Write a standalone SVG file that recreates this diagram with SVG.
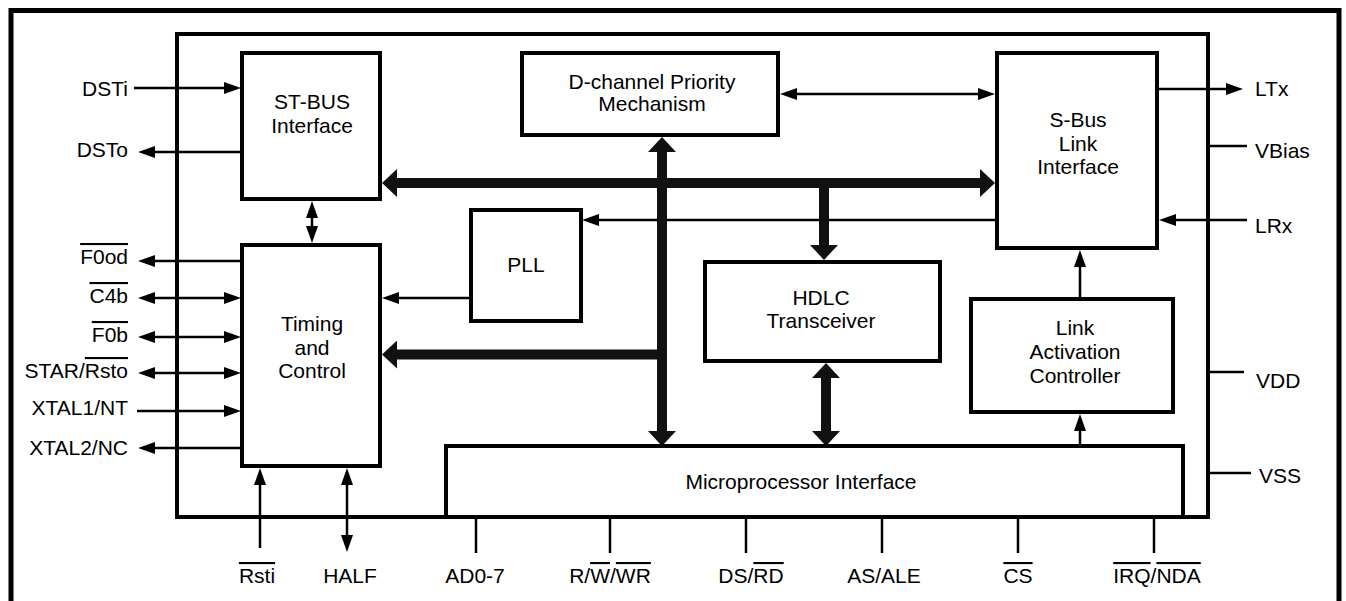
<svg xmlns="http://www.w3.org/2000/svg" width="1346" height="601" viewBox="0 0 1346 601">
<style>
text{font-family:"Liberation Sans",Arial,sans-serif;font-size:21px;fill:#000}
.c{text-anchor:middle}
.e{text-anchor:end}
.box{fill:#fff;stroke:#000;stroke-width:4}
.t{stroke:#000;stroke-width:2.5;fill:none}
.k{stroke:#111;stroke-width:10;fill:none}
.ol{text-decoration:overline}
</style>
<defs>
<marker id="a" markerUnits="userSpaceOnUse" markerWidth="17" markerHeight="12" refX="9" refY="6" orient="auto-start-reverse"><path d="M0,0 L17,6 L0,12 z" fill="#000"/></marker>
<marker id="A" markerUnits="userSpaceOnUse" markerWidth="15" markerHeight="28" refX="3" refY="14" orient="auto-start-reverse"><path d="M0,0 L15,14 L0,28 z" fill="#111"/></marker>
</defs>
<rect width="1346" height="601" fill="#fff"/>
<path d="M11,601 V10.5 H1339 V601" fill="none" stroke="#000" stroke-width="5"/>
<rect id="chip" x="177" y="34" width="1031" height="483" fill="none" stroke="#000" stroke-width="4"/>

<g id="connectors">
<line class="t" x1="134" y1="88" x2="233" y2="88" marker-end="url(#a)"/>
<line class="t" x1="241" y1="152" x2="146" y2="152" marker-end="url(#a)"/>
<line class="t" x1="241" y1="261" x2="146" y2="261" marker-end="url(#a)"/>
<line class="t" x1="146" y1="298" x2="233" y2="298" marker-start="url(#a)" marker-end="url(#a)"/>
<line class="t" x1="146" y1="337" x2="233" y2="337" marker-start="url(#a)" marker-end="url(#a)"/>
<line class="t" x1="146" y1="373" x2="233" y2="373" marker-start="url(#a)" marker-end="url(#a)"/>
<line class="t" x1="137" y1="411" x2="233" y2="411" marker-end="url(#a)"/>
<line class="t" x1="241" y1="448" x2="146" y2="448" marker-end="url(#a)"/>
<line class="t" x1="260" y1="548" x2="260" y2="476" marker-end="url(#a)"/>
<line class="t" x1="347" y1="476" x2="347" y2="544" marker-start="url(#a)" marker-end="url(#a)"/>
<line class="t" x1="312" y1="209" x2="312" y2="235" marker-start="url(#a)" marker-end="url(#a)"/>
<line class="t" x1="788" y1="94" x2="987" y2="94" marker-start="url(#a)" marker-end="url(#a)"/>
<line class="t" x1="997" y1="220" x2="590" y2="220" marker-end="url(#a)"/>
<line class="t" x1="471" y1="298" x2="390" y2="298" marker-end="url(#a)"/>
<line class="t" x1="1157" y1="89" x2="1235" y2="89" marker-end="url(#a)"/>
<line class="t" x1="1208" y1="146" x2="1247" y2="146"/>
<line class="t" x1="1247" y1="220" x2="1167" y2="220" marker-end="url(#a)"/>
<line class="t" x1="1208" y1="372" x2="1244" y2="372"/>
<line class="t" x1="1208" y1="473" x2="1251" y2="473"/>
<line class="t" x1="1080" y1="299" x2="1080" y2="258" marker-end="url(#a)"/>
<line class="t" x1="1080" y1="446" x2="1080" y2="422" marker-end="url(#a)"/>
<line class="t" x1="476" y1="517" x2="476" y2="553"/>
<line class="t" x1="610" y1="517" x2="610" y2="553"/>
<line class="t" x1="746" y1="517" x2="746" y2="553"/>
<line class="t" x1="882" y1="517" x2="882" y2="553"/>
<line class="t" x1="1018" y1="517" x2="1018" y2="553"/>
<line class="t" x1="1154" y1="517" x2="1154" y2="553"/>
<line class="k" x1="394" y1="183" x2="983" y2="183" marker-start="url(#A)" marker-end="url(#A)"/>
<line class="k" x1="662" y1="149" x2="662" y2="434" marker-start="url(#A)" marker-end="url(#A)"/>
<line class="k" x1="667" y1="354.5" x2="394" y2="354.5" marker-end="url(#A)"/>
<line class="k" x1="824" y1="178" x2="824" y2="248" marker-end="url(#A)"/>
<line class="k" x1="826" y1="375" x2="826" y2="434" marker-start="url(#A)" marker-end="url(#A)"/>
</g>

<g id="stbus"><rect class="box" x="242" y="53" width="138" height="146"/>
<text class="c" x="312" y="109">ST-BUS</text><text class="c" x="312" y="133">Interface</text></g>
<g id="timing"><rect class="box" x="242" y="245" width="138" height="221"/>
<text class="c" x="312" y="331">Timing</text><text class="c" x="312" y="355">and</text><text class="c" x="312" y="378">Control</text></g>
<g id="dchan"><rect class="box" x="522" y="53" width="256" height="82"/>
<text class="c" x="652" y="89">D-channel Priority</text><text class="c" x="652" y="111">Mechanism</text></g>
<g id="pll"><rect class="box" x="471" y="210" width="110" height="111"/>
<text class="c" x="526" y="272">PLL</text></g>
<g id="hdlc"><rect class="box" x="705" y="262" width="235" height="99"/>
<text class="c" x="821" y="305">HDLC</text><text class="c" x="821" y="328">Transceiver</text></g>
<g id="sbus"><rect class="box" x="997" y="53" width="160" height="195"/>
<text class="c" x="1078" y="127">S-Bus</text><text class="c" x="1078" y="151">Link</text><text class="c" x="1078" y="174">Interface</text></g>
<g id="lac"><rect class="box" x="971" y="299" width="202" height="113"/>
<text class="c" x="1075" y="335">Link</text><text class="c" x="1075" y="359">Activation</text><text class="c" x="1075" y="383">Controller</text></g>
<g id="mpi"><rect class="box" x="446" y="446" width="737" height="71"/>
<text class="c" x="801" y="489">Microprocessor Interface</text></g>

<g id="pins">
<text class="e" x="128" y="96">DSTi</text>
<text class="e" x="128" y="157">DSTo</text>
<text class="e" x="128" y="264"><tspan class="ol">F0od</tspan></text>
<text class="e" x="128" y="303"><tspan class="ol">C4b</tspan></text>
<text class="e" x="128" y="342"><tspan class="ol">F0b</tspan></text>
<text class="e" x="128" y="378">STAR/<tspan class="ol">Rsto</tspan></text>
<text class="e" x="128" y="415">XTAL1/NT</text>
<text class="e" x="128" y="455">XTAL2/NC</text>
<text x="1255" y="96">LTx</text>
<text x="1255" y="158">VBias</text>
<text x="1255" y="233">LRx</text>
<text x="1256" y="388">VDD</text>
<text x="1259" y="483">VSS</text>
<text class="c" x="257" y="583"><tspan class="ol">Rsti</tspan></text>
<text class="c" x="350" y="583">HALF</text>
<text class="c" x="475" y="583">AD0-7</text>
<text class="c" x="610" y="583">R/<tspan class="ol">W</tspan>/<tspan class="ol">WR</tspan></text>
<text class="c" x="751" y="583">DS/<tspan class="ol">RD</tspan></text>
<text class="c" x="884" y="583">AS/ALE</text>
<text class="c" x="1018" y="583"><tspan class="ol">CS</tspan></text>
<text class="c" x="1157" y="583"><tspan class="ol">IRQ</tspan>/<tspan class="ol">NDA</tspan></text>
</g>
</svg>
